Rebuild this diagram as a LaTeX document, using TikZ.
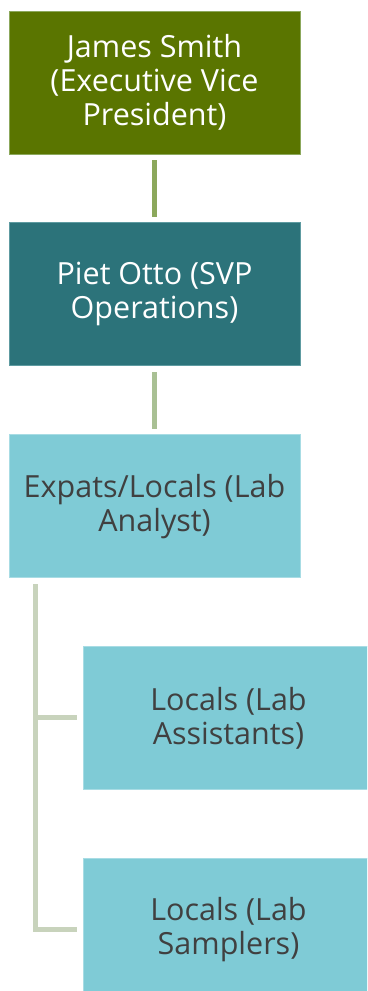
\documentclass[tikz,border=0pt]{standalone}
\usepackage{fontspec}
\setmainfont{Open Sans}
\usetikzlibrary{positioning}
\definecolor{olivefill}{HTML}{5A7500}
\definecolor{oliveedge}{HTML}{8CA85C}
\definecolor{tealfill}{HTML}{2C737A}
\definecolor{tealedge}{HTML}{5E9BA1}
\definecolor{aquafill}{HTML}{7FCBD6}
\definecolor{aquaedge}{HTML}{A8DCE4}
\definecolor{linkone}{HTML}{8CA85C}
\definecolor{linktwo}{HTML}{A9C094}
\definecolor{linkthree}{HTML}{C8D3BC}
\definecolor{darktext}{HTML}{404040}
\begin{document}
\begin{tikzpicture}[x=1pt, y=1pt,
rolebox/.style={rectangle, minimum width=291pt, minimum height=143pt, inner sep=0pt, align=center, line width=0.8pt, font=\fontsize{30.5}{34}\selectfont},
topbox/.style={rolebox, fill=olivefill, draw=oliveedge, text=white},
midbox/.style={rolebox, fill=tealfill, draw=tealedge, text=white},
lowbox/.style={rolebox, fill=aquafill, draw=aquaedge, text=darktext},
link/.style={line width=5pt, shorten <=6pt, shorten >=5pt}]
\useasboundingbox (0,0) rectangle (367,-991);
\clip (0,0) rectangle (367,-991);
\node[topbox] (james) at (154.5,-82.5) {James Smith\\(Executive Vice\\President)};
\node[midbox] (piet) [below=68pt of james] {Piet Otto (SVP\\Operations)};
\node[lowbox] (analyst) [below=68pt of piet] {Expats/Locals (Lab\\Analyst)};
\node[lowbox] (assistants) [below=68pt of analyst, xshift=74pt] {Locals (Lab\\Assistants)};
\node[lowbox] (samplers) [below=68pt of assistants] {Locals (Lab\\Samplers)};

\coordinate (trunk) at ([xshift=27pt, yshift=-6pt]analyst.south west);

\draw[link, linkone] (james.south) -- (piet.north);
\draw[link, linktwo] (piet.south) -- (analyst.north);
\draw[linkthree, line width=5pt, shorten >=6pt] (trunk) |- (assistants.west);
\draw[linkthree, line width=5pt, shorten >=6pt] (trunk) |- (samplers.west);
\end{tikzpicture}
\end{document}
